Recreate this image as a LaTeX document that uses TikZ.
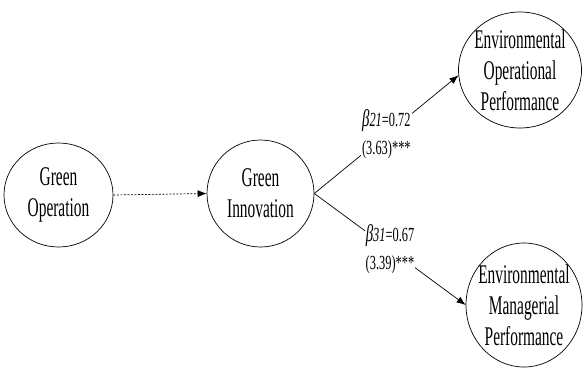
\documentclass[tikz,border=0pt]{standalone}
\usepackage{fontspec}
\setmainfont{Liberation Serif}[FakeStretch=0.57]
\newfontfamily\coeffont{Liberation Serif}[FakeStretch=0.62]
\usetikzlibrary{arrows.meta, shapes.geometric}

\begin{document}
\begin{tikzpicture}[x=1pt, y=-1pt,
    construct/.style={ellipse,draw,line width=0.7pt,inner sep=0pt},
    cname/.style={align=center,font=\fontsize{27}{31}\selectfont},
    coef/.style={fill=white,align=center,inner sep=1pt,font=\coeffont\fontsize{20}{28}\selectfont},
    >={Latex[length=9pt,width=7pt]}]
        \useasboundingbox (0,0) rectangle (587,370);

        \node[construct, minimum width=109pt, minimum height=104pt,
              label={[cname]center:Green\\Operation}] (go) at (58.5,195) {};

        \node[construct, minimum width=107pt, minimum height=107pt,
              label={[cname]center:Green\\Innovation}] (gi) at (260.5,193.5) {};

        \node[construct, minimum width=123pt, minimum height=116pt,
              label={[cname]center:Environmental\\Operational\\Performance}] (eop) at (520,70) {};

        \node[construct, minimum width=116pt, minimum height=124pt,
              label={[cname]center:Environmental\\Managerial\\Performance}] (emp) at (524,305) {};

        \draw[->, line width=0.7pt, dash pattern=on 2pt off 1.5pt] (go.east) -- (gi.west);

        \draw[->, line width=0.7pt] (gi.east) -- node[coef]
            {{\fontsize{24}{28}\selectfont\itshape β}{\itshape 21}=0.72\\(3.63)***} (eop.185);

        \draw[->, line width=0.7pt] (gi.east) -- node[coef]
            {{\fontsize{24}{28}\selectfont\itshape β}{\itshape 31}=0.67\\(3.39)***} (emp.west);

\end{tikzpicture}
\end{document}
